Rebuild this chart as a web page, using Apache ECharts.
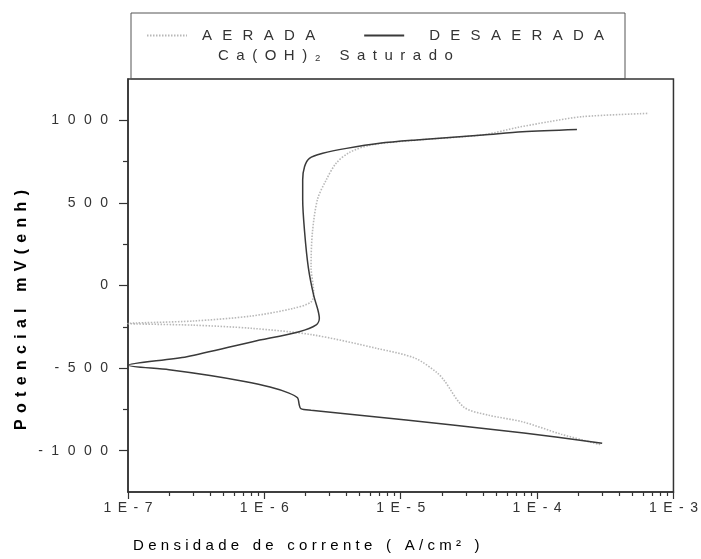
<!DOCTYPE html>
<html>
<head>
<meta charset="utf-8">
<title>Polarização — Ca(OH)2 saturado</title>
<script src="https://cdn.jsdelivr.net/npm/echarts@6/dist/echarts.min.js"></script>
<style>
  html, body { margin: 0; padding: 0; background: #fff; }
  #chart { width: 701px; height: 559px; }
</style>
</head>
<body>
<div id="chart"></div>
<script>
// Polarization curves, current density (A/cm²) vs potential (mV, enh)
// Each point is [current density, potential], in scan order.
const aeradaCurve = [
  [2.9e-4, -963], [1.5e-4, -900], [7.8e-5, -825], [4.4e-5, -785], [2.9e-5, -736],
  [2.1e-5, -579], [1.86e-5, -530], [1.28e-5, -441], [6.8e-6, -382], [2.24e-6, -298],
  [8e-7, -259], [3e-7, -240], [1e-7, -230],
  [3e-7, -215], [8e-7, -185], [1.6e-6, -140], [2.2e-6, -100], [2.3e-6, -45],
  [2.2e-6, 114], [2.25e-6, 320], [2.45e-6, 520], [2.84e-6, 639], [3.36e-6, 740],
  [4.2e-6, 805], [6e-6, 850], [1.3e-5, 880], [4e-5, 912], [7.3e-5, 958],
  [1.22e-4, 991], [2.14e-4, 1022], [6.6e-4, 1042]
];
const desaeradaCurve = [
  [3e-4, -955], [8e-5, -893], [2.4e-5, -845], [5e-6, -785], [2.2e-6, -755],
  [1.85e-6, -745], [1.8e-6, -720], [1.75e-6, -680], [1.5e-6, -650], [1.1e-6, -615],
  [7e-7, -580], [4e-7, -545], [2e-7, -510], [1e-7, -483],
  [2.7e-7, -431], [8.2e-7, -340], [1.8e-6, -280], [2.4e-6, -239], [2.53e-6, -199],
  [2.47e-6, -148], [2.3e-6, -60], [2.1e-6, 110], [1.97e-6, 330], [1.91e-6, 520],
  [1.91e-6, 640], [1.97e-6, 719], [2.14e-6, 770], [2.68e-6, 800], [4e-6, 830],
  [7e-6, 861], [1.3e-5, 881], [4e-5, 911], [7.8e-5, 931], [1.96e-4, 945]
];

const seriesNames = ['AERADA', 'DESAERADA'];
const subtitleText = 'Ca(OH)₂ Saturado';
const xTitleText = 'Densidade de corrente ( A/cm² )';
const yTitleText = 'Potencial mV(enh)';

// Axis ticks
const xDecades = [1e-7, 1e-6, 1e-5, 1e-4, 1e-3];
const xMinorFactors = [2, 3, 4, 5, 6, 7, 8, 9];
const xMinor = xDecades.slice(0, -1).flatMap(d => xMinorFactors.map(f => f * d));
const yMajor = [-1000, -500, 0, 500, 1000];
const yMinor = [-750, -250, 250, 750];
const yRange = [-1250, 1250];

const FONT = 'Liberation Sans, Arial, Helvetica, sans-serif';
const TEXT = '#333';

// Letter-spaced text built from rich-text tokens
function richSet(size, gap, space, color, weight) {
  const w = weight || 'normal';
  return {
    t: { fontFamily: FONT, fontSize: size, color: color, fontWeight: w },
    g: { fontFamily: FONT, fontSize: size, width: gap, fontWeight: w },
    w: { fontFamily: FONT, fontSize: size, width: space, fontWeight: w }
  };
}
function spread(text) {
  return Array.from(text).map(ch => ch === ' ' ? '{w| }' : '{t|' + ch + '}').join('{g| }');
}

const chart = echarts.init(document.getElementById('chart'), null, { renderer: 'canvas' });

const legendRich = richSet(15, 10.3, 4, TEXT);
legendRich.l1 = { fontFamily: FONT, fontSize: 15, width: 10 };
legendRich.l2 = { fontFamily: FONT, fontSize: 15, width: 20 };

const option = {
  backgroundColor: '#fff',
  animation: false,
  grid: {
    left: 128, right: 26, top: 79, bottom: 67,
    show: true, borderColor: '#333', borderWidth: 1.5, backgroundColor: 'transparent'
  },
  title: {
    text: spread(subtitleText),
    left: 218, top: 48, padding: 0,
    textStyle: { fontWeight: 'normal', rich: richSet(15, 7.5, 4, TEXT) }
  },
  legend: {
    data: seriesNames,
    left: 146, top: 28, padding: 0,
    itemWidth: 40, itemHeight: 14, itemGap: 48,
    itemStyle: { opacity: 0 },
    formatter: name => (name === 'AERADA' ? '{l1| }' : '{l2| }') + spread(name),
    textStyle: { rich: legendRich }
  },
  xAxis: [
    {
      type: 'log', logBase: 10, min: 1e-7, max: 1e-3,
      axisLine: { onZero: false, lineStyle: { color: '#333', width: 1.5 } },
      axisTick: { customValues: xDecades, length: 7, lineStyle: { color: '#333', width: 1.2 } },
      axisLabel: {
        customValues: xDecades, margin: 9,
        formatter: v => spread('1E' + Math.round(Math.log10(v))),
        rich: richSet(14, 6.5, 4, TEXT)
      },
      splitLine: { show: false }, minorTick: { show: false }
    },
    {
      type: 'log', logBase: 10, min: 1e-7, max: 1e-3, position: 'bottom',
      axisLine: { show: false, onZero: false },
      axisTick: { customValues: xMinor, length: 4, lineStyle: { color: '#333', width: 1.2 } },
      axisLabel: { show: false },
      splitLine: { show: false }
    }
  ],
  yAxis: [
    {
      type: 'value', min: yRange[0], max: yRange[1],
      axisLine: { show: true, onZero: false, lineStyle: { color: '#333', width: 1.5 } },
      axisTick: { show: true, customValues: yMajor, length: 9, lineStyle: { color: '#333', width: 1.2 } },
      axisLabel: {
        customValues: yMajor, margin: 20,
        formatter: v => spread(String(v)),
        rich: richSet(14, 8.5, 4, TEXT)
      },
      splitLine: { show: false }
    },
    {
      type: 'value', min: yRange[0], max: yRange[1], position: 'left',
      axisLine: { show: false, onZero: false },
      axisTick: { show: true, customValues: yMinor, length: 5, lineStyle: { color: '#333', width: 1.2 } },
      axisLabel: { show: false },
      splitLine: { show: false }
    }
  ],
  graphic: [
    {
      type: 'rect', z: 10,
      shape: { x: 131, y: 13, width: 494, height: 66 },
      style: { fill: 'none', stroke: '#555', lineWidth: 1 }
    },
    {
      type: 'text', z: 10,
      x: 133, y: 546,
      style: {
        text: spread(xTitleText), rich: richSet(15, 4.3, 5, TEXT),
        align: 'left', verticalAlign: 'middle'
      }
    },
    {
      type: 'text', z: 10,
      x: 22, y: 310, rotation: Math.PI / 2,
      style: {
        text: spread(yTitleText), rich: richSet(16, 6.3, 4, '#2a2a2a', 'bold'),
        align: 'center', verticalAlign: 'middle'
      }
    }
  ],
  series: [
    {
      name: 'AERADA', type: 'line', xAxisIndex: 0, yAxisIndex: 0,
      data: aeradaCurve, showSymbol: false, symbol: 'none', smooth: 0.3,
      lineStyle: { color: '#b8b8b8', width: 1.6, type: [1.5, 1.5] },
      itemStyle: { color: '#b8b8b8' }
    },
    {
      name: 'DESAERADA', type: 'line', xAxisIndex: 0, yAxisIndex: 0,
      data: desaeradaCurve, showSymbol: false, symbol: 'none', smooth: 0.3,
      lineStyle: { color: '#3a3a3a', width: 1.5 },
      itemStyle: { color: '#3a3a3a' }
    }
  ]
};

chart.setOption(option);
</script>
</body>
</html>
